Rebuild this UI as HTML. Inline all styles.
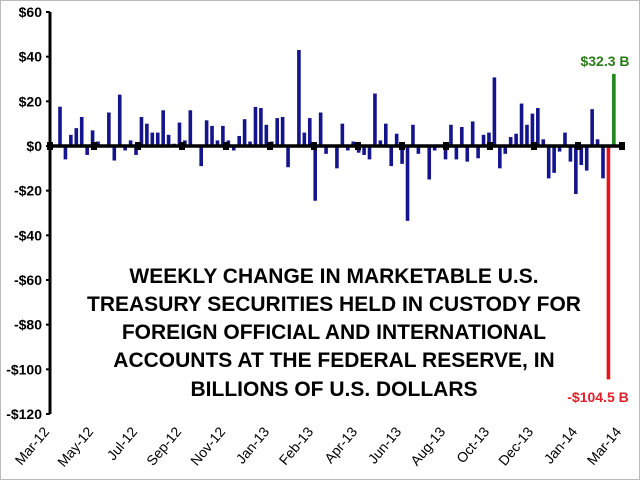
<!DOCTYPE html>
<html><head><meta charset="utf-8"><style>
html,body{margin:0;padding:0;background:#fff;}
svg{display:block;font-family:"Liberation Sans",sans-serif;}
</style></head><body>
<svg width="640" height="480" viewBox="0 0 640 480">
<rect x="0.5" y="0.5" width="639" height="479" fill="#fff" stroke="#bbb"/>
<g id="bars"></g>
<g id="axes"></g>
<g font-weight="bold" font-size="21" text-anchor="middle" fill="#000">
<text x="334" y="283">WEEKLY CHANGE IN MARKETABLE U.S.</text>
<text x="334" y="311">TREASURY SECURITIES HELD IN CUSTODY FOR</text>
<text x="334" y="339">FOREIGN OFFICIAL AND INTERNATIONAL</text>
<text x="334" y="367">ACCOUNTS AT THE FEDERAL RESERVE, IN</text>
<text x="334" y="396">BILLIONS OF U.S. DOLLARS</text>
</g>
<text x="605" y="66" font-weight="bold" font-size="14" fill="#2a7a1a" text-anchor="middle">$32.3 B</text>
<text x="598" y="402" font-weight="bold" font-size="14" fill="#e0202a" text-anchor="middle">-$104.5 B</text>
</svg>
<script>
const values = [17.6,-6,5,8,13,-4,7,2,0,15,-6.5,23,-2,2.5,-4,13,10,6,6,16,5,1,10.5,2.5,16,0,-9,11.5,9,2.5,9,2.5,-2,4.5,12,
2,17.5,17,9.5,2,12.5,13,-9.5,0,43,6,12.5,-24.5,15,-3.5,-0.5,-10,10,-2,2,-3,-4,-6,23.5,2.5,10,-9,5.5,-8,-33.5,9.5,-3.5,0,-15,-2,
0,-6,9.5,-6,8.5,-7,11,-5.5,5,6,30.7,-10,-3.5,4,5.5,19,9.5,14.5,17,3,-14.5,-12,-2.5,6,-7,-21.5,-8.5,-11,16.5,3,-14.5];
const lastNegative = -104.5;
const lastPositive = 32.3;
const yTicks = [60,40,20,0,-20,-40,-60,-80,-100,-120];
const yTickLabels = ["$60","$40","$20","$0","-$20","-$40","-$60","-$80","-$100","-$120"];
const xLabels = ["Mar-12","May-12","Jul-12","Sep-12","Nov-12","Jan-13","Feb-13","Apr-13","Jun-13","Aug-13","Oct-13","Dec-13","Jan-14","Mar-14"];

const NS="http://www.w3.org/2000/svg";
const y = v => 146 - v*(134/60);
const x = i => 60 + i*5.43;
function mk(tag, attrs, parent){const e=document.createElementNS(NS,tag);for(const k in attrs)e.setAttribute(k,attrs[k]);parent.appendChild(e);return e;}
const bars=document.getElementById('bars');
const axes=document.getElementById('axes');
values.forEach((v,i)=>{
  const r=mk('rect',{x:x(i)-1.8,y:Math.min(y(v),y(0)),width:3.6,height:Math.abs(y(v)-y(0)),fill:'#14148c'},bars);
  
  
});
const ni=values.length;
const rn=mk('rect',{x:x(ni)-1.8,y:y(0),width:3.6,height:y(lastNegative)-y(0),fill:'#e8131b'},bars);


const rp=mk('rect',{x:x(ni+1)-1.8,y:y(lastPositive),width:3.6,height:y(0)-y(lastPositive),fill:'#1e8a1e'},bars);


const ya=mk('line',{x1:50,y1:y(60),x2:50,y2:y(-120),stroke:'#000','stroke-width':3},axes);


yTicks.forEach((t,i)=>{
  const tk=mk('line',{x1:46,y1:y(t),x2:50,y2:y(t),stroke:'#000','stroke-width':2},axes);
  
  
  const tl=mk('text',{x:42,y:y(t)+5,'text-anchor':'end','font-size':14,'font-weight':'bold'},axes);
  tl.textContent=yTickLabels[i];
  
  
});
const za=mk('line',{x1:50,y1:y(0),x2:622,y2:y(0),stroke:'#000','stroke-width':3.5},axes);


xLabels.forEach((l,i)=>{
  const px=50+i*(572/(xLabels.length-1));
  const tk=mk('rect',{x:px-3,y:y(0)-4,width:6,height:8,fill:'#000'},axes);
  
  
  const tl=mk('text',{x:px,y:432,'text-anchor':'end','font-size':14,transform:`rotate(-50 ${px} 432)`},axes);
  tl.textContent=l;
  
  
});
</script>
</body></html>
